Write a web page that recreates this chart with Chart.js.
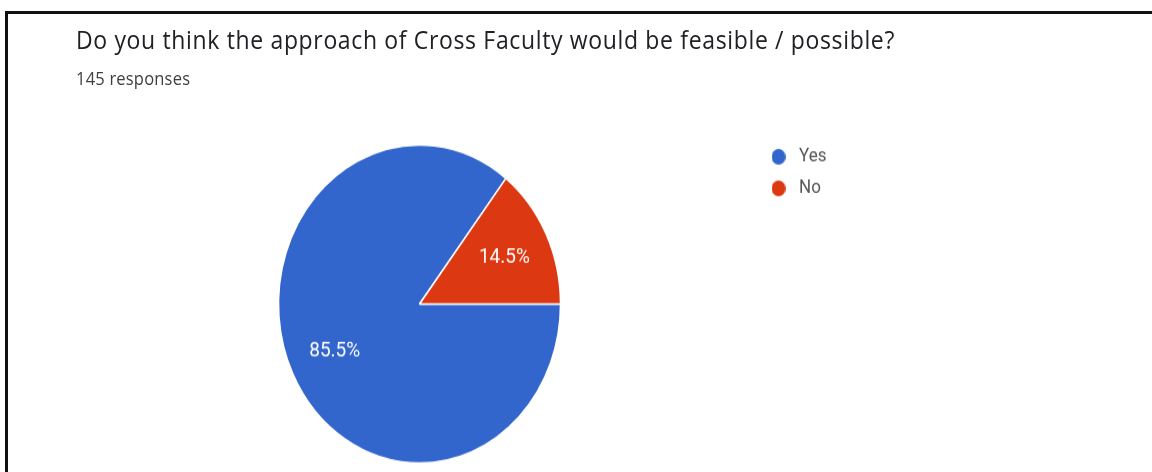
<!DOCTYPE html>
<html lang="en">
<head>
  <meta charset="UTF-8" />
  <title>Cross Faculty survey</title>
  <script src="https://cdn.jsdelivr.net/npm/chart.js"></script>
  <style>
    html, body {
      margin: 0;
      padding: 0;
      background: #fff;
      overflow: hidden;
      width: 1152px;
      height: 472px;
    }
    #frame {
      position: absolute;
      left: 5px;
      top: 11px;
      width: 1200px;
      height: 500px;
      border-top: 3px solid #111;
      border-left: 3px solid #111;
    }
    /* the whole card is drawn a bit taller than wide */
    #card {
      position: absolute;
      left: 0;
      top: 0;
      width: 1152px;
      height: 421px;
      transform: scaleY(1.128);
      transform-origin: 0 0;
      font-family: "Open Sans", Roboto, Arial, sans-serif;
    }
    #title {
      position: absolute;
      left: 76px;
      top: 23px;
      font-size: 23px;
      line-height: 23px;
      letter-spacing: 0.65px;
      color: #202124;
      white-space: nowrap;
    }
    #sub {
      position: absolute;
      left: 76px;
      top: 61px;
      font-size: 16.5px;
      line-height: 16px;
      letter-spacing: 0.2px;
      color: #3c4043;
      white-space: nowrap;
    }
    #chart {
      position: absolute;
      left: 0;
      top: 0;
    }
  </style>
</head>
<body>
  <div id="frame"></div>
  <div id="card">
    <div id="title"></div>
    <div id="sub"></div>
    <canvas id="chart" width="1152" height="421"></canvas>
  </div>

  <script>
    const question = 'Do you think the approach of Cross Faculty would be feasible / possible?';
    const responseCount = 145;
    const answers = ['Yes', 'No'];
    const shares = [85.5, 14.5];
    const sliceColors = ['#3366cc', '#dc3912'];

    document.getElementById('title').textContent = question;
    document.getElementById('sub').textContent = responseCount + ' responses';

    // small round marker used as the legend swatch
    function dot(color) {
      const c = document.createElement('canvas');
      c.width = 14;
      c.height = 14;
      const g = c.getContext('2d');
      g.fillStyle = color;
      g.beginPath();
      g.arc(7, 7, 7, 0, Math.PI * 2);
      g.fill();
      return c;
    }

    // percentage written inside each slice
    const sliceLabels = {
      id: 'sliceLabels',
      afterDatasetsDraw(chart) {
        const ctx = chart.ctx;
        const meta = chart.getDatasetMeta(0);
        ctx.save();
        ctx.font = '19px Roboto, Arial, sans-serif';
        ctx.fillStyle = '#fff';
        ctx.textAlign = 'center';
        ctx.textBaseline = 'middle';
        meta.data.forEach((arc, i) => {
          const p = arc.getProps(['x', 'y', 'startAngle', 'endAngle', 'outerRadius'], true);
          const mid = (p.startAngle + p.endAngle) / 2;
          const r = p.outerRadius * 0.67;
          ctx.fillText(shares[i].toFixed(1) + '%', p.x + Math.cos(mid) * r, p.y + Math.sin(mid) * r);
        });
        ctx.restore();
      }
    };

    new Chart(document.getElementById('chart'), {
      type: 'pie',
      data: {
        labels: answers,
        datasets: [{
          data: shares,
          backgroundColor: sliceColors,
          borderColor: '#fff',
          borderWidth: 1.5,
          radius: 141
        }]
      },
      options: {
        responsive: false,
        animation: false,
        rotation: 90,
        layout: {
          padding: { top: 119.5, bottom: 1.5, left: 83.5, right: 315.5 }
        },
        plugins: {
          legend: {
            position: 'right',
            align: 'start',
            labels: {
              usePointStyle: true,
              pointStyleWidth: 24,
              padding: 11,
              color: '#555',
              font: { family: 'Roboto', size: 17 },
              generateLabels: () => answers.map((a, i) => ({
                text: a,
                fillStyle: sliceColors[i],
                strokeStyle: sliceColors[i],
                lineWidth: 0,
                pointStyle: dot(sliceColors[i]),
                fontColor: '#555',
                hidden: false,
                index: i
              }))
            }
          },
          tooltip: { enabled: false }
        }
      },
      plugins: [sliceLabels]
    });
  </script>
</body>
</html>
